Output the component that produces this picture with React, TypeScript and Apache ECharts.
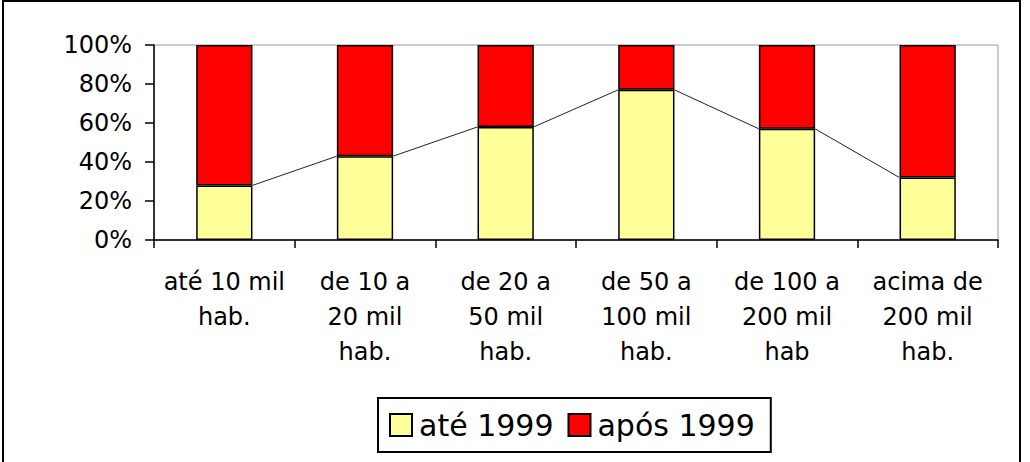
import React, { useEffect, useRef } from "react";
import * as echarts from "echarts";

const categories = [
  "até 10 mil\nhab.",
  "de 10 a\n20 mil\nhab.",
  "de 20 a\n50 mil\nhab.",
  "de 50 a\n100 mil\nhab.",
  "de 100 a\n200 mil\nhab",
  "acima de\n200 mil\nhab.",
];
const ate1999 = [28, 43, 58, 77, 57, 32];
const apos1999 = [72, 57, 42, 23, 43, 68];
const yTicks = [0, 20, 40, 60, 80, 100];

const FONT = "DejaVu Sans";

export default function App() {
  const ref = useRef<HTMLDivElement>(null);
  useEffect(() => {
    if (!ref.current) return;
    const chart = echarts.init(ref.current, undefined, { renderer: "svg" });
    const linkData = ate1999.slice(0, -1).map((v, i) => [i, v, ate1999[i + 1]]);
    chart.setOption({
      animation: false,
      backgroundColor: "#ffffff",
      textStyle: { fontFamily: FONT },
      grid: {
        left: 154,
        right: 32,
        top: 45,
        bottom: 222,
        show: true,
        borderColor: "#999999",
        borderWidth: 1,
        backgroundColor: "transparent",
      },
      legend: {
        left: 378,
        top: 398,
        orient: "horizontal",
        padding: [12, 16, 12, 11],
        borderColor: "#000",
        borderWidth: 2,
        itemWidth: 22,
        itemHeight: 22,
        itemGap: 14,
        icon: "rect",
        textStyle: { fontFamily: FONT, fontSize: 30, color: "#000", padding: [0, 0, 0, 2] },
        data: ["até 1999", "após 1999"],
      },
      xAxis: {
        type: "category",
        data: categories,
        boundaryGap: true,
        axisLine: { lineStyle: { color: "#000", width: 1.5 } },
        axisTick: { show: true, length: 8, lineStyle: { color: "#000", width: 1.5 } },
        axisLabel: {
          interval: 0,
          margin: 24,
          fontFamily: FONT,
          fontSize: 24,
          lineHeight: 35,
          color: "#000",
          align: "center",
        },
      },
      yAxis: {
        type: "value",
        min: 0,
        max: 100,
        interval: 20,
        splitLine: { show: false },
        axisLine: { show: true, lineStyle: { color: "#000", width: 1.5 } },
        axisTick: { show: true, length: 9, lineStyle: { color: "#000", width: 1.5 } },
        axisLabel: {
          margin: 22,
          fontFamily: FONT,
          fontSize: 24,
          color: "#000",
          formatter: (v: number) => (yTicks.includes(v) ? v + "%" : ""),
        },
      },
      series: [
        {
          name: "até 1999",
          type: "bar",
          stack: "total",
          barWidth: "40%",
          data: ate1999,
          itemStyle: { color: "#FFFF99", borderColor: "#000", borderWidth: 1.5 },
        },
        {
          name: "após 1999",
          type: "bar",
          stack: "total",
          barWidth: "40%",
          data: apos1999,
          itemStyle: { color: "#FF0000", borderColor: "#000", borderWidth: 1.5 },
        },
        {
          name: "ligação",
          type: "custom",
          z: 5,
          data: linkData,
          encode: { x: 0, y: 1 },
          renderItem: (params: any, api: any) => {
            const i = api.value(0);
            const p1 = api.coord([i, api.value(1)]);
            const p2 = api.coord([i + 1, api.value(2)]);
            const bw = api.size([1, 0])[0] * 0.4;
            return {
              type: "line",
              shape: { x1: p1[0] + bw / 2, y1: p1[1], x2: p2[0] - bw / 2, y2: p2[1] },
              style: { stroke: "#222", lineWidth: 1 },
            };
          },
        },
      ],
      graphic: [
        {
          type: "rect",
          shape: { x: 3, y: 1, width: 1017, height: 480 },
          style: { fill: "none", stroke: "#000", lineWidth: 2 },
          silent: true,
        },
      ],
    });
    return () => chart.dispose();
  }, []);
  return (
    <div
      ref={ref}
      style={{ position: "fixed", left: 0, top: 0, width: 1030, height: 462 }}
    />
  );
}
